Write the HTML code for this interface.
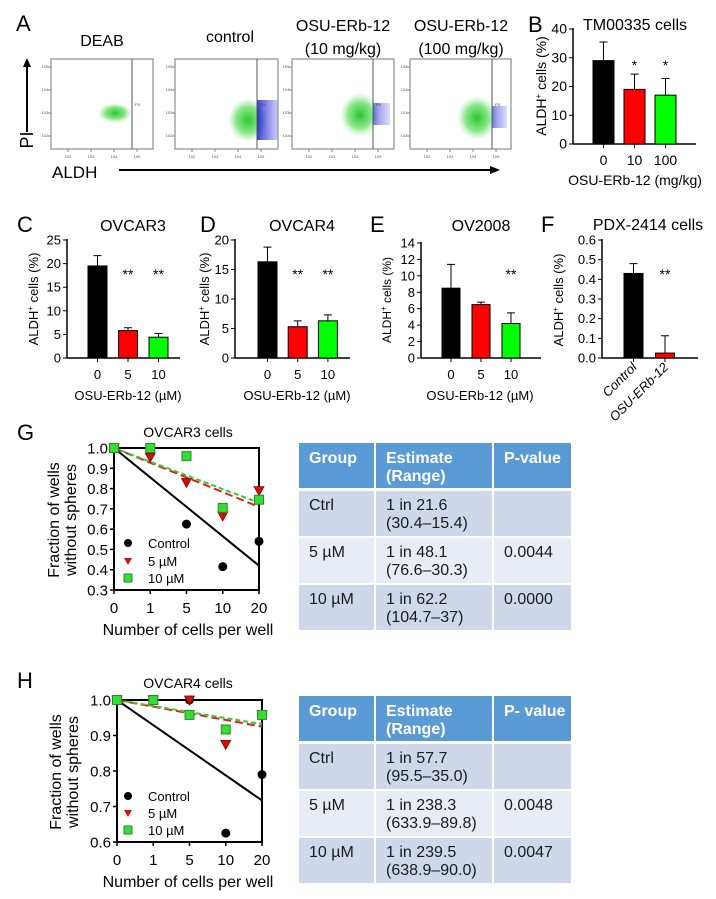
<!DOCTYPE html>
<html><head><meta charset="utf-8">
<style>
html,body{margin:0;padding:0;background:#fff;}
svg{display:block;font-family:"Liberation Sans",Arial,sans-serif;}
</style></head>
<body>
<svg id="fig" width="716" height="899" viewBox="0 0 716 899" xmlns="http://www.w3.org/2000/svg">
<defs>
<radialGradient id="gcloud"><stop offset="0" stop-color="#1fc21f" stop-opacity="0.95"/><stop offset="0.6" stop-color="#3dd63d" stop-opacity="0.6"/><stop offset="1" stop-color="#8be88b" stop-opacity="0"/></radialGradient>
<linearGradient id="bcloud" x1="0" x2="1"><stop offset="0" stop-color="#1a1ad0" stop-opacity="0.95"/><stop offset="1" stop-color="#5a5ae8" stop-opacity="0.35"/></linearGradient>
</defs>
<!-- Panel letters and titles -->
<text x="16" y="31" font-size="22">A</text>
<text x="102" y="46" font-size="16" text-anchor="middle">DEAB</text>
<text x="230" y="42" font-size="16" text-anchor="middle">control</text>
<text x="343" y="31" font-size="16" text-anchor="middle">OSU-ERb-12</text>
<text x="343" y="54" font-size="16" text-anchor="middle">(10 mg/kg)</text>
<text x="461" y="31" font-size="16" text-anchor="middle">OSU-ERb-12</text>
<text x="461" y="54" font-size="16" text-anchor="middle">(100 mg/kg)</text>
<line x1="27" y1="132" x2="27" y2="64" stroke="#000" stroke-width="2"/>
<polygon points="27,58 23,67 31,67" fill="#000"/>
<text transform="translate(33,140) rotate(-90)" font-size="18" text-anchor="middle">PI</text>
<text x="52" y="178" font-size="17">ALDH</text>
<line x1="119" y1="170" x2="492" y2="170" stroke="#000" stroke-width="2"/>
<polygon points="500,170 490,166 490,174" fill="#000"/>
<g id="flows"></g>
<text x="528" y="32" font-size="22">B</text>
<text x="635" y="30" font-size="16" text-anchor="middle">TM00335 cells</text>
<text x="17" y="232" font-size="22">C</text>
<text x="133" y="231" font-size="16" text-anchor="middle">OVCAR3</text>
<text x="200" y="232" font-size="22">D</text>
<text x="302" y="231" font-size="16" text-anchor="middle">OVCAR4</text>
<text x="370" y="232" font-size="22">E</text>
<text x="481" y="231" font-size="16" text-anchor="middle">OV2008</text>
<text x="541" y="232" font-size="22">F</text>
<text x="648" y="230" font-size="16" text-anchor="middle">PDX-2414 cells</text>
<g id="bars"></g>
<text x="17" y="440" font-size="22">G</text>
<text x="188" y="437" font-size="14" text-anchor="middle">OVCAR3 cells</text>
<text x="17" y="688" font-size="22">H</text>
<text x="188" y="688" font-size="14" text-anchor="middle">OVCAR4 cells</text>
<g id="lines"></g>
<g id="tables"></g>
</svg>
<script>
// ---------- Data ----------
const bCats = ['0','10','100'];
const bVals = [29, 19, 17];
const bErrs = [35.5, 24.3, 22.8];
const bStars = ['', '*', '*'];
const cCats = ['0','5','10'];
const cVals = [19.5, 5.8, 4.4];
const cErrs = [21.7, 6.4, 5.2];
const cStars = ['', '**', '**'];
const dCats = ['0','5','10'];
const dVals = [16.3, 5.3, 6.3];
const dErrs = [18.8, 6.3, 7.3];
const dStars = ['', '**', '**'];
const eCats = ['0','5','10'];
const eVals = [8.5, 6.5, 4.2];
const eErrs = [11.4, 6.8, 5.5];
const eStars = ['', '', '**'];
const fCats = ['Control','OSU-ERb-12'];
const fVals = [0.43, 0.025];
const fErrs = [0.48, 0.113];
const fStars = ['', '**'];
const barColors = ['#000000', '#ff0000', '#00ff00'];

const ldaCats = ['0','1','5','10','20'];
const gCtrl = [1.0, 1.0, 0.625, 0.415, 0.54];
const g5 = [1.0, 0.955, 0.83, 0.665, 0.79];
const g10 = [1.0, 1.0, 0.96, 0.705, 0.745];
const gFitCtrl = [1.0, 0.42];
const gFit5 = [1.0, 0.71];
const gFit10 = [1.0, 0.73];
const gTicks = [0.3,0.4,0.5,0.6,0.7,0.8,0.9,1.0];
const hCtrl = [1.0, 1.0, 1.0, 0.625, 0.79];
const h5 = [1.0, 1.0, 1.0, 0.875, 0.958];
const h10 = [1.0, 1.0, 0.958, 0.917, 0.958];
const hFitCtrl = [1.0, 0.717];
const hFit5 = [1.0, 0.925];
const hFit10 = [1.0, 0.932];
const hTicks = [0.6,0.7,0.8,0.9,1.0];

const gTable = [['Ctrl','1 in 21.6','(30.4–15.4)',''],['5 µM','1 in 48.1','(76.6–30.3)','0.0044'],['10 µM','1 in 62.2','(104.7–37)','0.0000']];
const hTable = [['Ctrl','1 in 57.7','(95.5–35.0)',''],['5 µM','1 in 238.3','(633.9–89.8)','0.0048'],['10 µM','1 in 239.5','(638.9–90.0)','0.0047']];

const NS = 'http://www.w3.org/2000/svg';
function mk(tag, parent, attrs) {
  const e = document.createElementNS(NS, tag);
  for (const k in attrs) e.setAttribute(k, attrs[k]);
  parent.appendChild(e);
  return e;
}

// ---------- Flow plots ----------
const flows = document.getElementById('flows');
const flowBoxes = [[51,153,132,115,113,0],[175,278,257,248,120,1],[292,394,373,360,115,1],[410,511,492,477,118,1]];
flowBoxes.forEach((b, i) => {
  const [x0, x1, gx, cx, cy, blue] = b;
  const g = mk('g', flows, {});
  
  
  const cl = mk('ellipse', g, {cx: cx, cy: cy, rx: blue ? 20 : 17, ry: blue ? 22 : 10, fill: 'url(#gcloud)'});
  
  
  if (blue) {
    const bl = mk('rect', g, {x: gx, y: cy - (i === 1 ? 20 : 12), width: x1 - gx - (i === 1 ? 0 : 4), height: i === 1 ? 40 : 22, fill: 'url(#bcloud)', opacity: i === 1 ? 0.9 : 0.6});
    
    
  }
  const box = mk('rect', g, {x: x0, y: 59, width: x1 - x0, height: 90, fill: 'none', stroke: '#777', 'stroke-width': 1});
  
  
  const gate = mk('line', g, {x1: gx, y1: 59, x2: gx, y2: 149, stroke: '#555', 'stroke-width': 1});
  
  
  const p3 = mk('text', g, {x: gx + 3, y: 106, 'font-size': 4, fill: '#444'});
  p3.textContent = 'P3';
  
  
  for (let k = 0; k < 4; k++) {
    const tx = x0 + 17 + k * 23;
    mk('line', g, {x1: tx, y1: 149, x2: tx, y2: 152, stroke: '#666', 'stroke-width': 0.8});
    const t = mk('text', g, {x: tx, y: 158, 'font-size': 4, fill: '#555', 'text-anchor': 'middle'});
    t.textContent = '10' + (k + 2);
    
    
    const ty = 136 - k * 23;
    mk('line', g, {x1: x0 - 3, y1: ty, x2: x0, y2: ty, stroke: '#666', 'stroke-width': 0.8});
    const t2 = mk('text', g, {x: x0 - 6, y: ty + 1, 'font-size': 4, fill: '#555', 'text-anchor': 'middle'});
    t2.textContent = '10' + (k + 2);
    
    
  }
});

// ---------- Bar charts ----------
const barsG = document.getElementById('bars');
function barChart(o) {
  const g = mk('g', barsG, {});
  
  
  const sy = v => o.y0 - (v / o.max) * (o.y0 - o.yTop);
  const sx = i => o.bx0 + i * o.sp;
  const ya = mk('line', g, {x1: o.ax, y1: o.yTop - 1, x2: o.ax, y2: o.y0, stroke: '#000', 'stroke-width': 1.5});
  
  
  const xa = mk('line', g, {x1: o.ax, y1: o.y0, x2: o.axEnd, y2: o.y0, stroke: '#000', 'stroke-width': 1.5});
  
  
  for (let v = 0; v <= o.max + 1e-9; v += o.step) {
    const y = sy(v);
    mk('line', g, {x1: o.ax - 4, y1: y, x2: o.ax, y2: y, stroke: '#000', 'stroke-width': 1});
    const t = mk('text', g, {x: o.ax - 6, y: y + 4.5, 'font-size': o.tfs || 13, 'text-anchor': 'end'});
    t.textContent = v.toFixed(o.dec);
    
    
  }
  o.vals.forEach((v, i) => {
    const cx = sx(i);
    const r = mk('rect', g, {x: cx - o.w / 2, y: sy(v), width: o.w, height: o.y0 - sy(v), fill: barColors[i], stroke: '#000', 'stroke-width': 1});
    
    
    const eb = mk('path', g, {d: `M${cx},${sy(v)}V${sy(o.errs[i])}M${cx - 4},${sy(o.errs[i])}H${cx + 4}`, stroke: '#000', 'stroke-width': 1, fill: 'none'});
    
    
    mk('line', g, {x1: cx, y1: o.y0, x2: cx, y2: o.y0 + 4, stroke: '#000', 'stroke-width': 1});
    let t;
    if (o.rot) {
      t = mk('text', g, {transform: `translate(${cx + 4},${o.y0 + 10}) rotate(-45)`, 'font-size': 13, 'text-anchor': 'end', 'font-style': 'italic'});
    } else {
      t = mk('text', g, {x: cx, y: o.y0 + 21, 'font-size': o.tfs || 13, 'text-anchor': 'middle'});
    }
    t.textContent = o.cats[i];
    
    
    if (o.stars[i]) {
      const s = mk('text', g, {x: cx, y: o.starY, 'font-size': 14, 'text-anchor': 'middle'});
      s.textContent = o.stars[i];
      
      
    }
  });
  const yl = mk('text', g, {transform: `translate(${o.ylx},${o.yly}) rotate(-90)`, 'font-size': o.ylfs || 13, 'text-anchor': 'middle'});
  yl.innerHTML = 'ALDH<tspan dy="-5" font-size="8">+</tspan><tspan dy="5"> cells (%)</tspan>';
  
  
  if (o.xl) {
    const xl = mk('text', g, {x: o.xlx, y: o.xly, 'font-size': o.xlfs || 13, 'text-anchor': 'middle'});
    xl.textContent = o.xl;
    
    
  }
}
barChart({name:'chart-b', ax:573, axEnd:696, y0:144, yTop:29, max:40, step:10, dec:0, bx0:603.5, sp:31, w:21, cats:bCats, vals:bVals, errs:bErrs, stars:bStars, starY:70, ylx:546, yly:86, ylfs:14, tfs:14, xl:'OSU-ERb-12 (mg/kg)', xlx:635, xly:185, xlfs:14});
barChart({name:'chart-c', ax:67, axEnd:180, y0:358, yTop:240, max:25, step:5, dec:0, bx0:97.5, sp:30.5, w:19, cats:cCats, vals:cVals, errs:cErrs, stars:cStars, starY:279, ylx:38, yly:299, xl:'OSU-ERb-12 (µM)', xlx:128, xly:400});
barChart({name:'chart-d', ax:235, axEnd:350, y0:358, yTop:240, max:20, step:5, dec:0, bx0:267.5, sp:30.2, w:19, cats:dCats, vals:dVals, errs:dErrs, stars:dStars, starY:279, ylx:209, yly:299, xl:'OSU-ERb-12 (µM)', xlx:297, xly:400});
barChart({name:'chart-e', ax:421, axEnd:541, y0:358, yTop:243, max:14, step:2, dec:0, bx0:451, sp:30, w:18, cats:eCats, vals:eVals, errs:eErrs, stars:eStars, starY:279, ylx:391, yly:300, ylfs:12, xl:'OSU-ERb-12 (µM)', xlx:480, xly:400});
barChart({name:'chart-f', ax:602, axEnd:698, y0:358, yTop:240, max:0.6, step:0.1, dec:1, bx0:633.5, sp:31.5, w:19, cats:fCats, vals:fVals, errs:fErrs, stars:fStars, starY:279, ylx:563, yly:300, rot:true});

// ---------- Limiting dilution plots ----------
const linesG = document.getElementById('lines');
function ldaChart(o) {
  const g = mk('g', linesG, {});
  
  
  const sy = v => o.y0 - (v - o.min) / (o.max - o.min) * (o.y0 - o.yTop);
  const sx = i => o.x0 + i * (o.x1 - o.x0) / (ldaCats.length - 1);
  const fr = mk('rect', g, {x: o.x0, y: o.yTop, width: o.x1 - o.x0, height: o.y0 - o.yTop, fill: 'none', stroke: '#000', 'stroke-width': 2});
  
  
  o.ticks.forEach(v => {
    const y = sy(v);
    mk('line', g, {x1: o.x0 - 4, y1: y, x2: o.x0, y2: y, stroke: '#000', 'stroke-width': 1.5});
    const t = mk('text', g, {x: o.x0 - 6, y: y + 5.5, 'font-size': 15, 'text-anchor': 'end'});
    t.textContent = v.toFixed(1);
    
    
  });
  ldaCats.forEach((c, i) => {
    mk('line', g, {x1: sx(i), y1: o.y0, x2: sx(i), y2: o.y0 + 4, stroke: '#000', 'stroke-width': 1.5});
    const t = mk('text', g, {x: sx(i), y: o.y0 + 23, 'font-size': 15, 'text-anchor': 'middle'});
    t.textContent = c;
    
    
  });
  const last = ldaCats.length - 1;
  const f1 = mk('line', g, {x1: sx(0), y1: sy(o.fitC[0]), x2: sx(last), y2: sy(o.fitC[1]), stroke: '#000', 'stroke-width': 2});
  
  
  const f2 = mk('line', g, {x1: sx(0), y1: sy(o.fit5[0]), x2: sx(last), y2: sy(o.fit5[1]), stroke: '#e02020', 'stroke-width': 2, 'stroke-dasharray': '8,4'});
  
  
  const f3 = mk('line', g, {x1: sx(0), y1: sy(o.fit10[0]), x2: sx(last), y2: sy(o.fit10[1]), stroke: '#33cc33', 'stroke-width': 2, 'stroke-dasharray': '5,3'});
  
  
  o.ctrl.forEach((v, i) => {
    const p = mk('circle', g, {cx: sx(i), cy: sy(v), r: 4.5, fill: '#000'});
    
    
  });
  o.s5.forEach((v, i) => {
    const x = sx(i), y = sy(v);
    const p = mk('polygon', g, {points: `${x - 5},${y - 4} ${x + 5},${y - 4} ${x},${y + 5}`, fill: '#d01010', stroke: '#8a0000', 'stroke-width': 0.8});
    
    
  });
  o.s10.forEach((v, i) => {
    const x = sx(i), y = sy(v);
    const p = mk('rect', g, {x: x - 4.5, y: y - 4.5, width: 9, height: 9, fill: '#33dd33', stroke: '#2a8a2a', 'stroke-width': 1});
    
    
  });
  // legend
  const lx = 128, tx = 148;
  const lc = mk('circle', g, {cx: lx, cy: o.legY[0], r: 4, fill: '#000'});
  
  
  const lt = mk('polygon', g, {points: `${lx - 4},${o.legY[1] - 3} ${lx + 4},${o.legY[1] - 3} ${lx},${o.legY[1] + 4}`, fill: '#d01010'});
  
  
  const ls = mk('rect', g, {x: lx - 4, y: o.legY[2] - 4, width: 8, height: 8, fill: '#33dd33', stroke: '#2a8a2a', 'stroke-width': 1});
  
  
  ['Control', '5 µM', '10 µM'].forEach((s, i) => {
    const t = mk('text', g, {x: tx, y: o.legY[i] + 5, 'font-size': 13});
    t.textContent = s;
    
    
  });
  const yl = mk('text', g, {transform: `translate(${o.ylx},${o.yly}) rotate(-90)`, 'font-size': 16, 'text-anchor': 'middle'});
  yl.textContent = 'Fraction of wells';
  
  
  const yl2 = mk('text', g, {transform: `translate(${o.ylx + 17},${o.yly}) rotate(-90)`, 'font-size': 16, 'text-anchor': 'middle'});
  yl2.textContent = 'without spheres';
  
  
  const xl = mk('text', g, {x: 188, y: o.xly, 'font-size': 16, 'text-anchor': 'middle'});
  xl.textContent = 'Number of cells per well';
  
  
}
ldaChart({name:'chart-g', x0:114, x1:259, y0:590, yTop:448, min:0.3, max:1.0, ticks:gTicks, ctrl:gCtrl, s5:g5, s10:g10, fitC:gFitCtrl, fit5:gFit5, fit10:gFit10, legY:[543,561,578], ylx:59, yly:520, xly:635});
ldaChart({name:'chart-h', x0:117, x1:262, y0:842, yTop:700, min:0.6, max:1.0, ticks:hTicks, ctrl:hCtrl, s5:h5, s10:h10, fitC:hFitCtrl, fit5:hFit5, fit10:hFit10, legY:[796,813,830], ylx:61, yly:772, xly:887});

// ---------- Tables ----------
const tablesG = document.getElementById('tables');
const colX = [299, 376, 494];
const colW = [75, 116, 77];
function table(name, top, rows, pHead) {
  const g = mk('g', tablesG, {});
  
  
  const heads = [['Group'], ['Estimate', '(Range)'], [pHead]];
  heads.forEach((h, c) => {
    const r = mk('rect', g, {x: colX[c], y: top, width: colW[c], height: 45, fill: '#5b9bd5'});
    
    
    h.forEach((s, k) => {
      const t = mk('text', g, {x: colX[c] + 10, y: top + 20 + k * 18, 'font-size': 16, 'font-weight': 'bold', fill: '#fff'});
      t.textContent = s;
      
      
    });
  });
  rows.forEach((row, ri) => {
    const ry = top + 48 + ri * 47;
    const fill = ri % 2 === 0 ? '#cfd8ea' : '#e8ecf5';
    const cells = [[row[0]], [row[1], row[2]], [row[3]]];
    cells.forEach((cl, c) => {
      const r = mk('rect', g, {x: colX[c], y: ry, width: colW[c], height: 45, fill: fill});
      
      
      cl.forEach((s, k) => {
        if (!s) return;
        const t = mk('text', g, {x: colX[c] + 10, y: ry + 19 + k * 18, 'font-size': 16, fill: '#1a1a1a'});
        t.textContent = s;
        
        
      });
    });
  });
}
table('table-g', 443, gTable, 'P-value');
table('table-h', 696, hTable, 'P- value');
</script>
</body></html>
